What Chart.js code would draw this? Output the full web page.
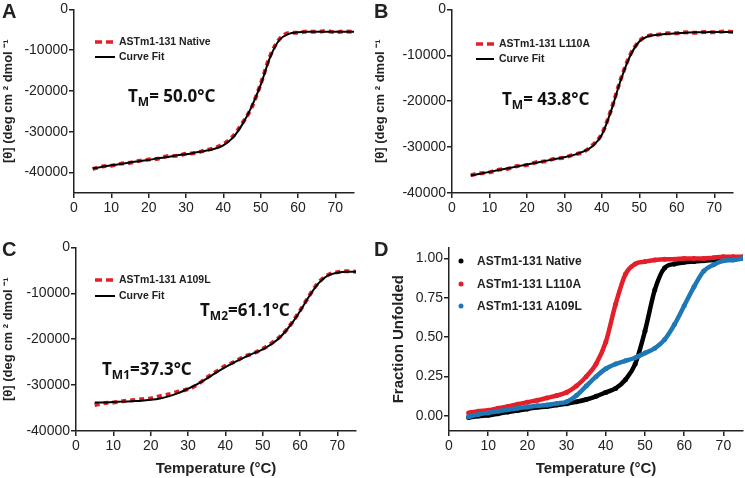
<!DOCTYPE html>
<html>
<head>
<meta charset="utf-8">
<script src="https://cdn.jsdelivr.net/npm/chart.js@4.4.0/dist/chart.umd.min.js"></script>
<style>
  body { margin: 0; background: #fff; }
  .panel { position: absolute; }
</style>
</head>
<body>
<div class="panel" style="left:0;top:0"><canvas id="chartA" width="372" height="238"></canvas></div>
<div class="panel" style="left:372px;top:0"><canvas id="chartB" width="373" height="238"></canvas></div>
<div class="panel" style="left:0;top:238px"><canvas id="chartC" width="372" height="240"></canvas></div>
<div class="panel" style="left:372px;top:238px"><canvas id="chartD" width="373" height="240"></canvas></div>
<script>
// temperatures (°C) shared by every series
const temps = [5, 7.5, 10, 12.5, 15, 17.5, 20, 22.5, 25, 27.5, 30, 32.5, 35, 37.5, 40,
  42.5, 45, 47.5, 50, 52.5, 55, 57.5, 60, 62.5, 65, 67.5, 70, 72.5, 75];

// panel A - native
const dataA = [-39100, -38500, -38300, -37800, -37600, -37100, -36800, -36600, -36000, -35900,
  -35400, -35200, -34600, -34000, -33000, -31200, -28000, -24200, -18300, -11500,
  -7300, -5800, -5700, -5400, -5500, -5300, -5600, -5400, -5500];
const fitA = [-39000, -38600, -38200, -37900, -37500, -37200, -36900, -36500, -36200, -35800,
  -35500, -35100, -34700, -34200, -33300, -31500, -28300, -24000, -18500, -11800,
  -7500, -6000, -5600, -5500, -5500, -5500, -5500, -5500, -5500];

// panel B - L110A
const dataB = [-36100, -35700, -35500, -34900, -34700, -34100, -33900, -33300, -33100, -32500,
  -32300, -31600, -31100, -29600, -27100, -21800, -15300, -10000, -6900, -5700,
  -5500, -5200, -5200, -5000, -5100, -4900, -5000, -4800, -4900];
const fitB = [-36200, -35800, -35400, -35000, -34600, -34200, -33800, -33400, -33000, -32600,
  -32200, -31700, -31000, -29800, -27300, -22000, -15500, -10200, -7000, -5800,
  -5500, -5300, -5200, -5100, -5000, -5000, -4900, -4900, -4900];

// panel C - A109L
const dataC = [-34400, -33900, -33800, -33500, -33300, -33100, -32900, -32400, -32000, -31400,
  -30900, -29900, -28400, -27100, -25800, -24900, -23800, -23100, -22100, -20800,
  -19200, -16800, -13800, -10500, -7600, -6000, -5400, -5200, -5300];
const fitC = [-33800, -33800, -33700, -33600, -33500, -33400, -33200, -32900, -32400, -31700,
  -30800, -29800, -28600, -27300, -26100, -25000, -24000, -23100, -22200, -21000,
  -19300, -16900, -13900, -10600, -7800, -6100, -5500, -5300, -5300];

// panel D - fraction unfolded
const fracNative = [-0.01, 0.0, 0.005, 0.015, 0.025, 0.035, 0.045, 0.055, 0.06, 0.07,
  0.078, 0.09, 0.105, 0.125, 0.15, 0.175, 0.23, 0.33, 0.54, 0.8,
  0.94, 0.965, 0.975, 0.98, 0.985, 0.99, 0.99, 1.0, 1.0];
const fracL110A = [0.02, 0.03, 0.037, 0.05, 0.06, 0.075, 0.088, 0.1, 0.115, 0.13,
  0.15, 0.19, 0.25, 0.33, 0.47, 0.71, 0.9, 0.965, 0.98, 0.99,
  0.995, 0.995, 1.0, 1.0, 1.0, 1.005, 1.01, 1.01, 1.01];
const fracA109L = [-0.005, 0.01, 0.02, 0.03, 0.04, 0.05, 0.057, 0.065, 0.07, 0.08,
  0.09, 0.13, 0.19, 0.25, 0.3, 0.33, 0.35, 0.37, 0.4, 0.43,
  0.485, 0.58, 0.7, 0.82, 0.92, 0.96, 0.985, 0.99, 1.0];

const xTicks = [0, 10, 20, 30, 40, 50, 60, 70];
const yTicksCD = [0, -10000, -20000, -30000, -40000];
const yTicksFrac = [0, 0.25, 0.5, 0.75, 1.0];

const RED = '#e3202a';
const BLUE = '#1f78b6';
const INK = '#222';
const yTitle = '[\u03b8] (deg cm \u00b2 dmol \u207b\u00b9';

const pts = arr => arr.map((v, i) => ({ x: temps[i], y: v }));

// draws panel letter, legend and T_M notes
const overlay = {
  id: 'overlay',
  afterDraw(chart, args, o) {
    const ctx = chart.ctx;
    ctx.save();
    ctx.fillStyle = INK;
    ctx.font = 'bold 20px "Liberation Sans", Arial';
    ctx.textBaseline = 'alphabetic';
    ctx.fillText(o.letter, 2, 18);

    ctx.font = 'bold ' + o.legendSize + 'px "Liberation Sans", Arial';
    ctx.textBaseline = 'middle';
    o.legend.forEach(it => {
      if (it.kind === 'dash') {
        ctx.strokeStyle = RED; ctx.lineWidth = 3.5; ctx.setLineDash([7, 4]);
        ctx.beginPath(); ctx.moveTo(it.x0, it.y); ctx.lineTo(it.x1, it.y); ctx.stroke();
        ctx.setLineDash([]);
      } else if (it.kind === 'line') {
        ctx.strokeStyle = '#000'; ctx.lineWidth = 2;
        ctx.beginPath(); ctx.moveTo(it.x0, it.y); ctx.lineTo(it.x1, it.y); ctx.stroke();
      } else {
        ctx.fillStyle = it.color;
        ctx.beginPath(); ctx.arc(it.x0, it.y, 2.5, 0, Math.PI * 2); ctx.fill();
      }
      ctx.fillStyle = INK;
      ctx.fillText(it.text, it.tx, it.y + 0.5);
    });

    ctx.textBaseline = 'alphabetic';
    (o.notes || []).forEach(n => {
      let x = n.x;
      ctx.fillStyle = '#111';
      ctx.font = 'bold 17px "Noto Sans", sans-serif';
      ctx.fillText('T', x, n.y);
      x += ctx.measureText('T').width;
      ctx.font = 'bold 12px "Noto Sans", sans-serif';
      ctx.fillText(n.sub, x, n.y + 4);
      x += ctx.measureText(n.sub).width;
      ctx.font = 'bold 17px "Noto Sans", sans-serif';
      ctx.fillText(n.rest, x, n.y);
    });
    ctx.restore();
  }
};

function axes(cfg) {
  return {
    x: {
      type: 'linear', min: 0, max: 75,
      afterBuildTicks: s => { s.ticks = xTicks.map(v => ({ value: v })); },
      afterFit: s => { s.height = cfg.xh; },
      border: { display: true, color: INK, width: 1.5 },
      grid: { drawOnChartArea: false, drawTicks: true, tickLength: 5, color: INK, lineWidth: 1.5 },
      ticks: { color: INK, padding: 2, maxRotation: 0, font: { family: '"Liberation Sans", Arial', size: 14 } },
      title: {
        display: !!cfg.xTitle, text: cfg.xTitle, color: INK, padding: 0,
        font: { family: '"Liberation Sans", Arial', size: 15, weight: 'bold', lineHeight: 1.2 }
      }
    },
    y: {
      type: 'linear', min: cfg.ymin, max: cfg.ymax,
      afterBuildTicks: s => { s.ticks = cfg.yTicks.map(v => ({ value: v })); },
      afterFit: s => { s.width = cfg.yw; },
      border: { display: true, color: INK, width: 1.5 },
      grid: { drawOnChartArea: false, drawTicks: true, tickLength: 5, color: INK, lineWidth: 1.5 },
      ticks: {
        color: INK, padding: 1, font: { family: '"Liberation Sans", Arial', size: 14 },
        callback: cfg.fmt || (v => String(v))
      },
      title: {
        display: true, text: cfg.yTitle, color: INK, padding: { top: cfg.ytPad, bottom: 0 },
        font: { family: '"Liberation Sans", Arial', size: cfg.ytSize, weight: 'bold', lineHeight: 1.2 }
      }
    }
  };
}

function cdPanel(id, data, fit, cfg, ov) {
  new Chart(document.getElementById(id), {
    type: 'line',
    data: {
      datasets: [
        { data: pts(fit), borderColor: '#000', borderWidth: 2, pointRadius: 0, cubicInterpolationMode: 'monotone' },
        { data: pts(data), borderColor: RED, borderWidth: 4, borderDash: [5, 4], pointRadius: 0, cubicInterpolationMode: 'monotone' }
      ]
    },
    options: {
      responsive: false, animation: false,
      layout: { autoPadding: false, padding: cfg.pad },
      plugins: { legend: { display: false }, tooltip: { enabled: false }, overlay: ov },
      scales: axes(cfg)
    },
    plugins: [overlay]
  });
}

cdPanel('chartA', dataA, fitA,
  { xh: 45, yw: 74, ymin: -45000, ymax: 0, yTicks: yTicksCD, yTitle: yTitle, ytSize: 13, ytPad: 1,
    pad: { left: 0, top: 7, right: 18, bottom: 0 } },
  { letter: 'A', legendSize: 10.5,
    legend: [
      { kind: 'dash', x0: 95, x1: 115, y: 42, tx: 119, text: 'ASTm1-131 Native' },
      { kind: 'line', x0: 95, x1: 115, y: 57, tx: 119, text: 'Curve Fit' }
    ],
    notes: [{ x: 128, y: 102, sub: 'M', rest: '= 50.0\u00b0C' }] });

cdPanel('chartB', dataB, fitB,
  { xh: 45, yw: 80, ymin: -40000, ymax: 0, yTicks: yTicksCD, yTitle: yTitle, ytSize: 13, ytPad: 1,
    pad: { left: 0, top: 7, right: 12, bottom: 0 } },
  { letter: 'B', legendSize: 10.5,
    legend: [
      { kind: 'dash', x0: 104, x1: 122, y: 44, tx: 127, text: 'ASTm1-131 L110A' },
      { kind: 'line', x0: 104, x1: 122, y: 59, tx: 127, text: 'Curve Fit' }
    ],
    notes: [{ x: 130, y: 105, sub: 'M', rest: '= 43.8\u00b0C' }] });

cdPanel('chartC', dataC, fitC,
  { xh: 47, yw: 76, ymin: -40000, ymax: 0, yTicks: yTicksCD, yTitle: yTitle, ytSize: 13, ytPad: 1,
    xTitle: 'Temperature (\u00b0C)', pad: { left: 0, top: 7, right: 16, bottom: 0 } },
  { letter: 'C', legendSize: 10.5,
    legend: [
      { kind: 'dash', x0: 95, x1: 115, y: 42, tx: 119, text: 'ASTm1-131 A109L' },
      { kind: 'line', x0: 95, x1: 115, y: 58, tx: 119, text: 'Curve Fit' }
    ],
    notes: [
      { x: 200, y: 78, sub: 'M2', rest: '=61.1\u00b0C' },
      { x: 102, y: 137, sub: 'M1', rest: '=37.3\u00b0C' }
    ] });

// panel D, scatter-like thick bands
const dCfg = { xh: 47, yw: 77, ymin: -0.095, ymax: 1.07, yTicks: yTicksFrac, yTitle: 'Fraction Unfolded',
  ytSize: 15, ytPad: 18, xTitle: 'Temperature (\u00b0C)', fmt: v => v.toFixed(2),
  pad: { left: 0, top: 3, right: 2, bottom: 0 } };
const band = (arr, color) => ({
  data: pts(arr), borderColor: color, backgroundColor: color, borderWidth: 4.5,
  pointRadius: 2.5, pointBorderWidth: 0, cubicInterpolationMode: 'monotone'
});
new Chart(document.getElementById('chartD'), {
  type: 'line',
  data: { datasets: [band(fracA109L, BLUE), band(fracL110A, RED), band(fracNative, '#000')] },
  options: {
    responsive: false, animation: false,
    layout: { autoPadding: false, padding: dCfg.pad },
    plugins: {
      legend: { display: false }, tooltip: { enabled: false },
      overlay: { letter: 'D', legendSize: 12,
        legend: [
          { kind: 'dot', color: '#000', x0: 89, y: 23, tx: 105, text: 'ASTm1-131 Native' },
          { kind: 'dot', color: RED, x0: 89, y: 46, tx: 105, text: 'ASTm1-131 L110A' },
          { kind: 'dot', color: BLUE, x0: 89, y: 68, tx: 105, text: 'ASTm1-131 A109L' }
        ] }
    },
    scales: axes(dCfg)
  },
  plugins: [overlay]
});
</script>
</body>
</html>
